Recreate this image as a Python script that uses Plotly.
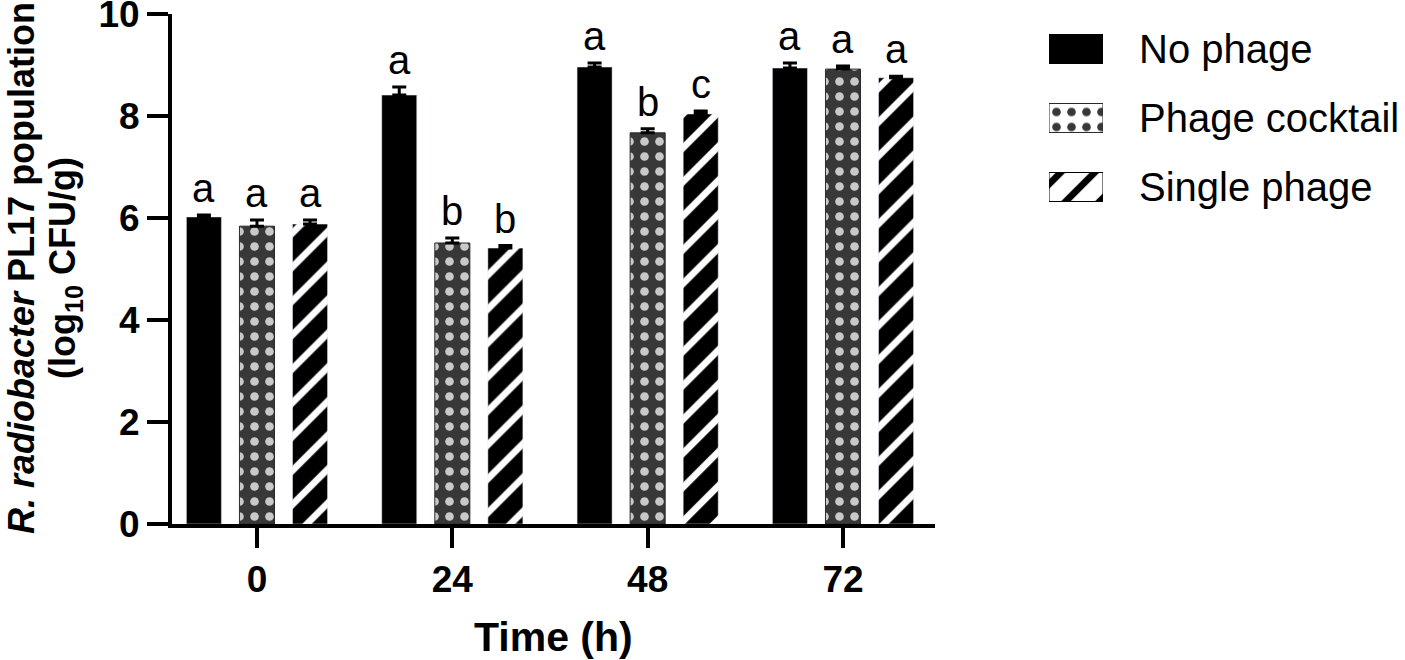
import plotly.graph_objects as go

# ---------------- data ----------------
times = ["0", "24", "48", "72"]
series = ["No phage", "Phage cocktail", "Single phage"]

no_phage = [6.02, 8.41, 8.96, 8.94]
no_phage_err = [0.04, 0.16, 0.08, 0.10]
cocktail = [5.84, 5.51, 7.67, 8.92]
cocktail_err = [0.12, 0.10, 0.08, 0.06]
single = [5.88, 5.41, 8.04, 8.75]
single_err = [0.08, 0.05, 0.06, 0.03]

letters_no = ["a", "a", "a", "a"]
letters_cocktail = ["a", "b", "b", "a"]
letters_single = ["a", "b", "c", "a"]

y_ticks = [0, 2, 4, 6, 8, 10]

y_title_1 = "<b><i>R. radiobacter</i> PL17 population</b>"
y_title_2 = "<b>(log<sub>10</sub> CFU/g)</b>"
x_title = "<b>Time (h)</b>"

# ---------------- styles ----------------
FONT = "Liberation Sans, Arial, sans-serif"
BARGAP = 0.185
GROUPGAP = 0.34
L, R, T, B = 172, 40, 14, 136
W_PLOT = 1405 - L - R
H_PLOT = 660 - T - B

CHK_BG, CHK_FG = "#383838", "#c9c9c9"
styles = [
    dict(color="black", pattern=dict(shape="")),
    dict(color=CHK_BG, line=dict(color="#2a2a2a", width=1),
         pattern=dict(shape=".", fgcolor=CHK_FG, bgcolor=CHK_BG,
                      size=15, solidity=0.26, fillmode="replace")),
    dict(color="black",
         pattern=dict(shape="/", fgcolor="white", bgcolor="black",
                      size=24, solidity=0.28, fillmode="replace")),
]

values = [no_phage, cocktail, single]
errors = [no_phage_err, cocktail_err, single_err]
letters = [letters_no, letters_cocktail, letters_single]

fig = go.Figure()
for k, name in enumerate(series):
    fig.add_trace(go.Bar(
        x=times, y=values[k], name=name, showlegend=False,
        marker=styles[k],
        error_y=dict(type="data", symmetric=False, array=errors[k],
                     arrayminus=[0] * len(times), color="black",
                     thickness=3, width=7),
    ))

# significance letters above error bars
annotations = []
slot = (1 - BARGAP) / len(series)
for k in range(len(series)):
    for i in range(len(times)):
        annotations.append(dict(
            x=i + (k - 1) * slot, y=values[k][i] + errors[k][i],
            xref="x", yref="y", text=letters[k][i], showarrow=False,
            yanchor="bottom", xanchor="center", yshift=3,
            font=dict(family=FONT, size=40, color="black"),
        ))

# custom legend: swatch bars on hidden helper axes
fig.add_trace(go.Bar(
    x=[1, 1, 1], y=series, orientation="h", width=0.42,
    xaxis="x2", yaxis="y2", showlegend=False, hoverinfo="skip",
    marker=dict(
        color=["black", CHK_BG, "black"],
        line=dict(color=["black", "#2a2a2a", "black"], width=1),
        pattern=dict(shape=["", ".", "/"],
                     fgcolor=["black", CHK_FG, "white"],
                     bgcolor=["black", CHK_BG, "black"],
                     size=[15, 15, 24], solidity=[0.26, 0.26, 0.28],
                     fillmode="replace"),
    ),
))
for name in series:
    annotations.append(dict(
        x=1, y=name, xref="x2 domain", yref="y2", text=name,
        showarrow=False, xanchor="left", yanchor="middle", xshift=34,
        font=dict(family=FONT, size=40, color="black"),
    ))

# y-axis title (two rotated lines)
for txt, cx in ((y_title_1, 21), (y_title_2, 65)):
    annotations.append(dict(
        x=(cx - L) / W_PLOT, y=(524 - 268) / H_PLOT, xref="paper", yref="paper",
        text=txt, showarrow=False, textangle=-90,
        xanchor="center", yanchor="middle",
        font=dict(family=FONT, size=36, color="black"),
    ))
# x-axis title
annotations.append(dict(
    x=(553 - L) / W_PLOT, y=(524 - 637) / H_PLOT, xref="paper", yref="paper",
    text=x_title, showarrow=False, xanchor="center", yanchor="middle",
    font=dict(family=FONT, size=41, color="black"),
))

fig.update_layout(
    width=1405, height=660,
    margin=dict(l=L, r=R, t=T, b=B),
    paper_bgcolor="white", plot_bgcolor="white",
    barmode="group", bargap=BARGAP, bargroupgap=GROUPGAP,
    showlegend=False,
    annotations=annotations,
    font=dict(family=FONT, color="black"),
    xaxis=dict(
        domain=[0, 763 / W_PLOT], type="category", automargin=False,
        range=[-0.435, 3.471], showline=True, linewidth=4, linecolor="black",
        ticks="outside", ticklen=20, tickwidth=4, tickcolor="black",
        showgrid=False, zeroline=False,
        tickfont=dict(family=FONT, size=37, color="black", weight="bold"),
    ),
    yaxis=dict(
        range=[0, 10], tickvals=y_ticks, showline=True, linewidth=4,
        automargin=False, ticklabeloverflow="allow",
        linecolor="black", ticks="outside", ticklen=21, tickwidth=4,
        tickcolor="black", showgrid=False, zeroline=False,
        tickfont=dict(family=FONT, size=37, color="black", weight="bold"),
    ),
    xaxis2=dict(domain=[(1049 - L) / W_PLOT, (1103 - L) / W_PLOT],
                range=[0, 1], visible=False, anchor="y2", fixedrange=True),
    yaxis2=dict(domain=[(524 - 221.5) / H_PLOT, (524 - 14.5) / H_PLOT],
                visible=False, anchor="x2", autorange="reversed",
                type="category", categoryorder="array", categoryarray=series),
)

fig.write_html(
    "out.html",
    config={"displayModeBar": False},
    post_script="document.body.style.margin='0';document.body.style.overflow='hidden';",
)
